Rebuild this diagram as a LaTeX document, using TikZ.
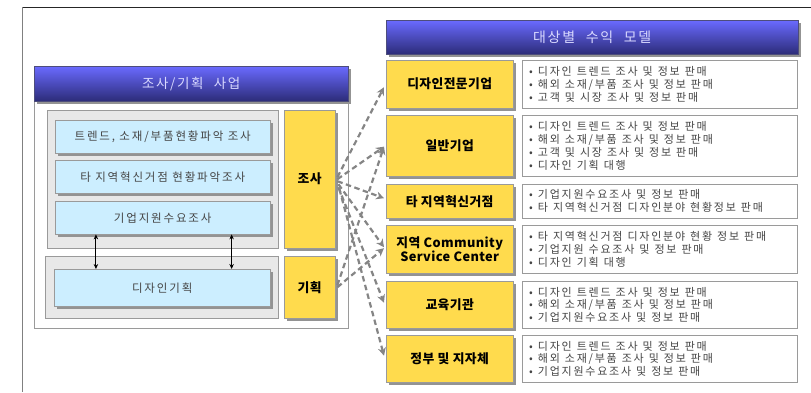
\documentclass[tikz,border=0pt]{standalone}
\usepackage{fontspec}
\setmainfont{Noto Sans CJK KR}
\newfontfamily\krsp[LetterSpace=16,WordSpace=2.5]{Noto Sans CJK KR}
\newfontfamily\krds[LetterSpace=16]{Noto Sans CJK KR}
\newfontfamily\krhd[LetterSpace=12,WordSpace=2.2]{Noto Sans CJK KR}
\newfontfamily\krbd[LetterSpace=3]{Noto Sans CJK KR}
\usetikzlibrary{shadows,arrows.meta,calc}
\definecolor{ylw}{HTML}{FFDB4D}
\definecolor{lblue}{HTML}{CCEEFF}
\definecolor{hdtop}{HTML}{6A6AFF}
\definecolor{hdbot}{HTML}{2C2C78}
\definecolor{gbox}{HTML}{E8E8E8}
\definecolor{edgec}{HTML}{9A9A9A}
\definecolor{txt}{HTML}{454545}
\definecolor{arrc}{HTML}{858585}
\tikzset{
  shadowed/.style={general shadow={fill=gray!85, shadow xshift=2.5pt, shadow yshift=-2.5pt}},
  box/.style={rectangle, inner sep=0pt, anchor=north west},
  hdr/.style={box, shadowed, top color=hdtop, bottom color=hdbot, draw=hdbot!60!gray,
    text=white!85!blue, font=\krhd\fontsize{13.5}{15}\selectfont},
  panel/.style={box, draw=edgec, fill=white},
  graybox/.style={box, draw=edgec, fill=gbox},
  bluebox/.style={box, shadowed, draw=edgec, fill=lblue, text=txt, font=\krsp\fontsize{11.5}{13}\selectfont},
  ybox/.style={box, shadowed, draw=edgec, fill=ylw, font=\krbd\bfseries\fontsize{12.8}{14}\selectfont, align=center},
  desc/.style={box, draw=edgec, fill=white, text=txt, align=left, inner xsep=7pt,
    font=\krds\fontsize{11}{12.8}\selectfont,
    execute at begin node={\spaceskip=5pt plus 1pt\relax}},
  darr/.style={line width=2.2pt, arrc, dash pattern=on 5.5pt off 3.5pt, -{Stealth[length=8pt,width=8pt]}},
  biarr/.style={line width=1pt, {Stealth[length=5pt,width=4.5pt]}-{Stealth[length=5pt,width=4.5pt]}}
}
\begin{document}
\begin{tikzpicture}[x=1pt,y=-1pt]
\useasboundingbox (0,0) rectangle (811,392);
% outer frame
\coordinate (ftl) at (22,7);
\coordinate (ftr) at (811,7);
\coordinate (fbl) at (22,392);
\draw[line width=1pt, black!85] (ftl) -- (ftr);
\draw[line width=1pt, gray] (ftl) -- (fbl);

% left panel
\node[panel, minimum width=314pt, minimum height=227pt] (lp) at (34,101) {};
\node[hdr, minimum width=314pt, minimum height=35pt] (lh) at (34,66) {조사/기획 사업};
\node[graybox, minimum width=231pt, minimum height=138pt] (g1) at (47,110) {};
\node[graybox, minimum width=233pt, minimum height=62pt] (g2) at (45,256) {};
\node[bluebox, minimum width=215pt, minimum height=33pt] (b1) at (55,120) {트렌드, 소재/부품현황파악 조사};
\node[bluebox, minimum width=215pt, minimum height=33pt] (b2) at (55,160) {타 지역혁신거점 현황파악조사};
\node[bluebox, minimum width=215pt, minimum height=33pt] (b3) at (55,201) {기업지원수요조사};
\node[bluebox, minimum width=216pt, minimum height=37pt] (b4) at (54,269) {디자인기획};
\node[ybox, minimum width=51pt, minimum height=138pt] (jo) at (284,110) {조사};
\node[ybox, minimum width=51pt, minimum height=62pt] (gi) at (284,256) {기획};
\coordinate (p1) at ($(b3.south west)!0.19!(b3.south east)$);
\coordinate (p2) at ($(b3.south west)!0.82!(b3.south east)$);
\draw[biarr] (p1) -- (p1 |- b4.north);
\draw[biarr] (p2) -- (p2 |- b4.north);

% right panel
\node[hdr, minimum width=412pt, minimum height=34pt, font=\krhd\fontsize{14}{15}\selectfont] (rh) at (386,20) {대상별 수익 모델};
\node[ybox, minimum width=127pt, minimum height=48pt] (r1) at (386,60) {디자인전문기업};
\node[ybox, minimum width=127pt, minimum height=61pt] (r2) at (386,115) {일반기업};
\node[ybox, minimum width=127pt, minimum height=34pt] (r3) at (386,184) {타 지역혁신거점};
\node[ybox, minimum width=127pt, minimum height=48pt, font=\krbd\bfseries\fontsize{12.8}{13.5}\selectfont] (r4) at (386,225) {지역 Community\\Service Center};
\node[ybox, minimum width=127pt, minimum height=47pt] (r5) at (386,281) {교육기관};
\node[ybox, minimum width=127pt, minimum height=47pt] (r6) at (386,335) {정부 및 지자체};

\node[desc, minimum width=275pt, minimum height=48pt, text width=261pt] (d1) at (522,60)
  {• 디자인 트렌드 조사 및 정보 판매\\• 해외 소재/부품 조사 및 정보 판매\\• 고객 및 시장 조사 및 정보 판매};
\node[desc, minimum width=275pt, minimum height=61pt, text width=261pt] (d2) at (522,115)
  {• 디자인 트렌드 조사 및 정보 판매\\• 해외 소재/부품 조사 및 정보 판매\\• 고객 및 시장 조사 및 정보 판매\\• 디자인 기획 대행};
\node[desc, minimum width=275pt, minimum height=34pt, text width=261pt] (d3) at (522,184)
  {• 기업지원수요조사 및 정보 판매\\• 타 지역혁신거점 디자인분야 현황정보 판매};
\node[desc, minimum width=275pt, minimum height=48pt, text width=261pt] (d4) at (522,225)
  {• 타 지역혁신거점 디자인분야 현황 정보 판매\\• 기업지원 수요조사 및 정보 판매\\• 디자인 기획 대행};
\node[desc, minimum width=275pt, minimum height=47pt, text width=261pt] (d5) at (522,281)
  {• 디자인 트렌드 조사 및 정보 판매\\• 해외 소재/부품 조사 및 정보 판매\\• 기업지원수요조사 및 정보 판매};
\node[desc, minimum width=275pt, minimum height=47pt, text width=261pt] (d6) at (522,335)
  {• 디자인 트렌드 조사 및 정보 판매\\• 해외 소재/부품 조사 및 정보 판매\\• 기업지원수요조사 및 정보 판매};

% connectors
\draw[darr] ($(jo.east)+(2,-2)$) -- ($(r1.west)+(-2,3)$);
\draw[darr] ($(jo.east)+(2,0)$) -- ($(r2.west)+(-2,1)$);
\draw[darr] ($(jo.east)+(2,2)$) -- ($(r3.west)+(-2,-3)$);
\draw[darr] ($(jo.east)+(3,5)$) -- ($(r4.west)+(-2,-2)$);
\draw[darr] ($(jo.east)+(3,8)$) -- ($(r5.west)+(-2,-2)$);
\draw[darr] ($(jo.east)+(4,10)$) -- ($(r6.west)+(-2,-3)$);
\draw[darr] ($(gi.east)+(2,-2)$) -- ($(r2.west)+(-2,1)$);
\draw[darr] ($(gi.east)+(2,0)$) -- ($(r4.west)+(-2,-1)$);
\end{tikzpicture}
\end{document}
